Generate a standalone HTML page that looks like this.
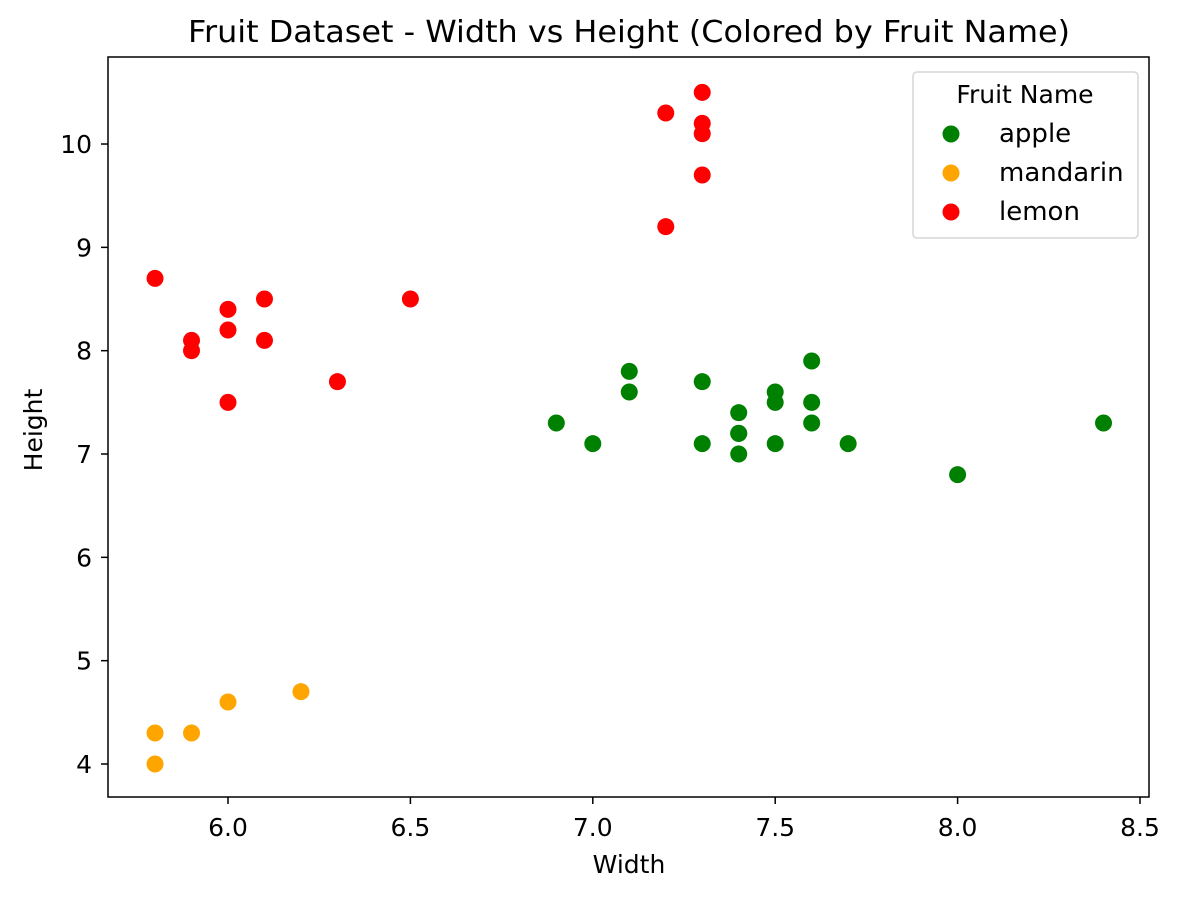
<!DOCTYPE html>
<html><head><meta charset="utf-8"><style>
body{margin:0;background:#fff}
svg{display:block;font-family:"DejaVu Sans","Liberation Sans",sans-serif}
</style></head><body>
<svg id="chart" width="1179" height="898">
<rect x="0" y="0" width="1179" height="898" fill="#fff"/>
<text x="629" y="42" font-size="30" text-anchor="middle" textLength="882" lengthAdjust="spacingAndGlyphs">Fruit Dataset - Width vs Height (Colored by Fruit Name)</text>
<g id="ticks"></g>
<g id="points"></g>
<rect x="108" y="57" width="1041" height="740" fill="none" stroke="#000" stroke-width="1.5"/>
<text x="629" y="873" font-size="25" text-anchor="middle">Width</text>
<text x="42" y="430" font-size="25" text-anchor="middle" transform="rotate(-90 42 430)">Height</text>
<g>
<rect x="913" y="72" width="225" height="166" rx="4" fill="#fff" stroke="#d6d6d6" stroke-width="1.5"/>
<text x="1025" y="103" font-size="25" text-anchor="middle">Fruit Name</text>
<g id="legend-entries"></g>
</g>
</svg>
<script>
const apple_w=[6.9,7.0,7.1,7.1,7.3,7.3,7.4,7.4,7.4,7.4,7.5,7.5,7.5,7.6,7.6,7.6,7.7,8.0,8.4];
const apple_h=[7.3,7.1,7.8,7.6,7.7,7.1,7.4,7.2,7.2,7.0,7.6,7.5,7.1,7.9,7.5,7.3,7.1,6.8,7.3];
const mandarin_w=[5.8,5.8,5.9,6.0,6.2];
const mandarin_h=[4.3,4.0,4.3,4.6,4.7];
const lemon_w=[7.3,7.2,7.3,7.3,7.3,7.2,5.8,5.9,5.9,6.0,6.0,6.0,6.1,6.1,6.5,6.3];
const lemon_h=[10.5,10.3,10.2,10.1,9.7,9.2,8.7,8.1,8.0,8.4,8.2,7.5,8.5,8.1,8.5,7.7];
const xTicks=[6.0,6.5,7.0,7.5,8.0,8.5];
const yTicks=[4,5,6,7,8,9,10];
const seriesNames=["apple","mandarin","lemon"];
const NS="http://www.w3.org/2000/svg";
function xs(v){return 228+(v-6)*364.8;}
function ys(v){return 764-(v-4)*103.33;}
function mk(t,a){const e=document.createElementNS(NS,t);for(const k in a)e.setAttribute(k,a[k]);return e;}
const tg=document.getElementById('ticks');
xTicks.forEach(v=>{
 const l=mk('line',{x1:xs(v),x2:xs(v),y1:797,y2:804,stroke:'#000','stroke-width':1.5});
 
 
 tg.appendChild(l);
 const t=mk('text',{x:xs(v),y:836,'font-size':25,'text-anchor':'middle'});
 t.textContent=v.toFixed(1);
 
 
 tg.appendChild(t);
});
yTicks.forEach(v=>{
 const l=mk('line',{x1:101,x2:108,y1:ys(v),y2:ys(v),stroke:'#000','stroke-width':1.5});
 
 
 tg.appendChild(l);
 const t=mk('text',{x:92,y:ys(v)+9,'font-size':25,'text-anchor':'end'});
 t.textContent=String(v);
 
 
 tg.appendChild(t);
});
const pg=document.getElementById('points');
const series=[[apple_w,apple_h,'green'],[mandarin_w,mandarin_h,'orange'],[lemon_w,lemon_h,'red']];
series.forEach((s,i)=>{
 s[0].forEach((w,j)=>{
  const c=mk('circle',{cx:xs(w),cy:ys(s[1][j]),r:8.5,fill:s[2]});
  
  
  pg.appendChild(c);
 });
});
const lg=document.getElementById('legend-entries');
series.forEach((s,i)=>{
 const y=134+i*39;
 const c=mk('circle',{cx:951,cy:y,r:8.5,fill:s[2]});
 
 
 lg.appendChild(c);
 const t=mk('text',{x:999,y:y+8,'font-size':26});
 t.textContent=seriesNames[i];
 
 
 lg.appendChild(t);
});
</script>
</body></html>
